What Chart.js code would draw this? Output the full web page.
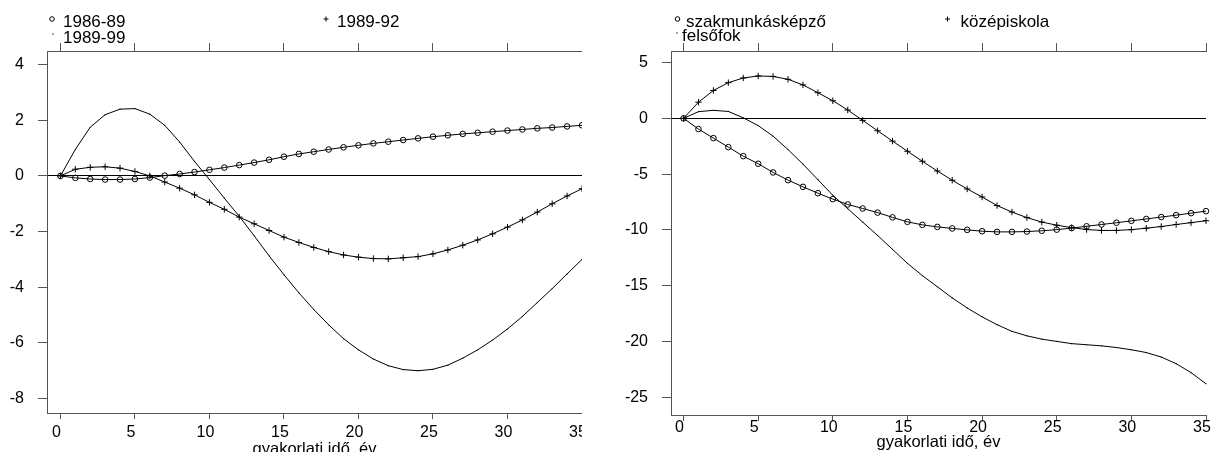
<!DOCTYPE html>
<html>
<head>
<meta charset="utf-8">
<script src="https://cdn.jsdelivr.net/npm/chart.js@4.4.1/dist/chart.umd.min.js"></script>
<style>
  body { margin: 0; background: #fff; width: 1216px; height: 452px; overflow: hidden; position: relative; }
  #wrapL { position: absolute; left: 0; top: 0; width: 582px; height: 452px; overflow: hidden; }
  #wrapR { position: absolute; left: 590px; top: 0; width: 626px; height: 452px; overflow: hidden; }
</style>
</head>
<body>
<div id="wrapL"><canvas id="leftChart" width="596" height="462"></canvas></div>
<div id="wrapR"><canvas id="rightChart" width="630" height="462"></canvas></div>
<script>
// experience in years (x values)
const years = [0, 1, 2, 3, 4, 5, 6, 7, 8, 9, 10, 11, 12, 13, 14, 15, 16, 17,
               18, 19, 20, 21, 22, 23, 24, 25, 26, 27, 28, 29, 30, 31, 32, 33, 34, 35];
const xTicks = [0, 5, 10, 15, 20, 25, 30, 35];
const xTitle = 'gyakorlati idő, év';

// left panel: periods
const leftLabels = ['1986-89', '1989-92', '1989-99'];
const left8689 = [0, -0.07, -0.11, -0.13, -0.13, -0.11, -0.06, 0.01, 0.07, 0.14, 0.22, 0.3,
                  0.39, 0.48, 0.58, 0.69, 0.79, 0.87, 0.95, 1.03, 1.1, 1.17, 1.23, 1.29,
                  1.35, 1.41, 1.46, 1.51, 1.55, 1.59, 1.63, 1.67, 1.71, 1.74, 1.78, 1.82];
const left8992 = [0, 0.24, 0.31, 0.33, 0.28, 0.16, 0, -0.22, -0.44, -0.68, -0.95, -1.2,
                  -1.48, -1.72, -1.96, -2.2, -2.39, -2.57, -2.72, -2.84, -2.92, -2.97, -2.98, -2.94,
                  -2.9, -2.8, -2.66, -2.49, -2.3, -2.08, -1.84, -1.58, -1.3, -1.0, -0.72, -0.46];
const left8999 = [0, 0.95, 1.75, 2.2, 2.4, 2.42, 2.22, 1.82, 1.22, 0.52, -0.13, -0.8,
                  -1.45, -2.15, -2.87, -3.55, -4.2, -4.8, -5.35, -5.85, -6.25, -6.58, -6.82, -6.96,
                  -7.0, -6.95, -6.8, -6.55, -6.25, -5.9, -5.5, -5.05, -4.55, -4.05, -3.52, -3.0];
const leftYTicks = [-8, -6, -4, -2, 0, 2, 4];

// right panel: education levels
const rightLabels = ['szakmunkásképző', 'középiskola', 'felsőfok'];
const rightSzak = [0, -0.96, -1.77, -2.58, -3.39, -4.07, -4.85, -5.54, -6.14, -6.71, -7.24, -7.72,
                   -8.08, -8.45, -8.88, -9.28, -9.55, -9.73, -9.87, -10.0, -10.12, -10.18, -10.18, -10.15,
                   -10.08, -9.98, -9.84, -9.68, -9.52, -9.36, -9.19, -9.02, -8.85, -8.68, -8.5, -8.32];
const rightKozep = [0, 1.45, 2.5, 3.2, 3.62, 3.8, 3.76, 3.5, 3.0, 2.3, 1.58, 0.75,
                    -0.18, -1.11, -2.04, -2.95, -3.85, -4.72, -5.55, -6.33, -7.05, -7.82, -8.4, -8.9,
                    -9.3, -9.58, -9.8, -9.97, -10.05, -10.05, -9.98, -9.85, -9.7, -9.52, -9.35, -9.18];
const rightFelso = [0, 0.6, 0.72, 0.62, 0.05, -0.65, -1.6, -2.8, -4.1, -5.5, -6.9, -8.1,
                    -9.3, -10.5, -11.75, -13.0, -14.1, -15.1, -16.1, -17.0, -17.8, -18.5, -19.1, -19.5,
                    -19.8, -20.0, -20.2, -20.3, -20.4, -20.55, -20.75, -21.0, -21.4, -22.0, -22.8, -23.8];
const rightYTicks = [-25, -20, -15, -10, -5, 0, 5];

Chart.defaults.font.family = '"Liberation Sans", Arial, sans-serif';
Chart.defaults.color = '#000';

const axisGray = '#555';
const pts = vals => vals.map((v, i) => ({ x: years[i], y: v }));

function series(label, vals, style) {
  const base = {
    label: label,
    data: pts(vals),
    borderColor: '#000',
    borderWidth: 1,
    pointBorderColor: '#000',
    pointBorderWidth: 1,
    pointHoverRadius: 0,
    tension: 0,
    clip: false
  };
  if (style === 'circle') {
    return Object.assign(base, { pointStyle: 'circle', pointRadius: 2.8, pointBackgroundColor: 'rgba(0,0,0,0)' });
  }
  if (style === 'cross') {
    return Object.assign(base, { pointStyle: 'cross', pointRadius: 3.2 });
  }
  return Object.assign(base, { pointStyle: 'circle', pointRadius: 0.6, pointBorderWidth: 0, pointBackgroundColor: '#000' });
}

// legend drawn in the top margin, two columns like the original
const cornerLegend = {
  id: 'cornerLegend',
  afterDraw(chart, args, opts) {
    const ctx = chart.ctx;
    ctx.save();
    ctx.font = '17px "Liberation Sans", Arial, sans-serif';
    ctx.fillStyle = '#000';
    ctx.strokeStyle = '#000';
    ctx.lineWidth = 1;
    ctx.textBaseline = 'alphabetic';
    chart.data.datasets.forEach((ds, i) => {
      const it = opts.items[i];
      ctx.beginPath();
      if (ds.pointStyle === 'cross') {
        ctx.moveTo(it.mx - 2.5, it.my); ctx.lineTo(it.mx + 2.5, it.my);
        ctx.moveTo(it.mx, it.my - 2.5); ctx.lineTo(it.mx, it.my + 2.5);
        ctx.stroke();
      } else if (ds.pointRadius > 1) {
        ctx.arc(it.mx, it.my, 2.3, 0, Math.PI * 2);
        ctx.stroke();
      } else {
        ctx.arc(it.mx, it.my, 0.7, 0, Math.PI * 2);
        ctx.fill();
      }
      ctx.fillText(ds.label, it.tx, it.ty);
    });
    ctx.restore();
  }
};

function makeScales(o) {
  return {
    x: {
      type: 'linear', position: 'bottom', min: o.xMin, max: 35,
      afterBuildTicks: s => { s.ticks = xTicks.map(v => ({ value: v })); },
      afterFit: s => { s.height = o.bottomH; },
      border: { display: true, color: axisGray, width: 1 },
      grid: { drawOnChartArea: false, tickLength: 6, color: axisGray },
      ticks: { color: '#000', font: { size: 16 }, padding: o.xPad, labelOffset: -4, maxRotation: 0, autoSkip: false },
      title: { display: true, text: xTitle, color: '#000', font: { size: 16.5 }, padding: { top: 0, bottom: o.titlePad } }
    },
    x2: {
      type: 'linear', position: 'top', min: o.xMin, max: 35,
      afterBuildTicks: s => { s.ticks = xTicks.map(v => ({ value: v })); },
      afterFit: s => { s.height = 51; },
      border: { display: true, color: axisGray, width: 1 },
      grid: { drawOnChartArea: false, tickLength: 8, color: axisGray },
      ticks: { display: false }
    },
    y: {
      type: 'linear', position: 'left', min: o.yMin, max: o.yMax,
      afterBuildTicks: s => { s.ticks = o.yTicks.map(v => ({ value: v })); },
      afterFit: s => { s.width = o.leftW; },
      border: { display: true, color: axisGray, width: 1 },
      grid: {
        color: c => (c.tick && c.tick.value === 0 ? '#000' : 'rgba(0,0,0,0)'),
        tickColor: axisGray, tickLength: 9, lineWidth: 1
      },
      ticks: { color: '#000', font: { size: 16 }, padding: 14 }
    }
  };
}

function makeChart(id, datasets, scaleOpts, legendItems, padRight) {
  return new Chart(document.getElementById(id), {
    type: 'line',
    data: { datasets: datasets },
    options: {
      responsive: false,
      animation: false,
      devicePixelRatio: 1,
      layout: { padding: { left: 0, right: padRight, top: 0, bottom: 0 } },
      scales: makeScales(scaleOpts),
      plugins: {
        legend: { display: false },
        tooltip: { enabled: false },
        cornerLegend: { items: legendItems }
      }
    },
    plugins: [cornerLegend]
  });
}

makeChart('leftChart',
  [series(leftLabels[0], left8689, 'circle'),
   series(leftLabels[1], left8992, 'cross'),
   series(leftLabels[2], left8999, 'dot')],
  { xMin: -0.9, yMin: -8.52, yMax: 4.49, yTicks: leftYTicks, leftW: 47, bottomH: 49, xPad: 4, titlePad: 3 },
  [{ mx: 52, my: 19, tx: 63, ty: 26.5 },
   { mx: 326, my: 19, tx: 337, ty: 26.5 },
   { mx: 53, my: 34, tx: 63, ty: 42.5 }],
  14);

makeChart('rightChart',
  [series(rightLabels[0], rightSzak, 'circle'),
   series(rightLabels[1], rightKozep, 'cross'),
   series(rightLabels[2], rightFelso, 'dot')],
  { xMin: -0.84, yMin: -26.6, yMax: 6.04, yTicks: rightYTicks, leftW: 81, bottomH: 47, xPad: -3, titlePad: 10 },
  [{ mx: 87.5, my: 19, tx: 96, ty: 26.5 },
   { mx: 357.5, my: 19, tx: 370.5, ty: 26.5 },
   { mx: 87, my: 33, tx: 92, ty: 41 }],
  14);
</script>
</body>
</html>
